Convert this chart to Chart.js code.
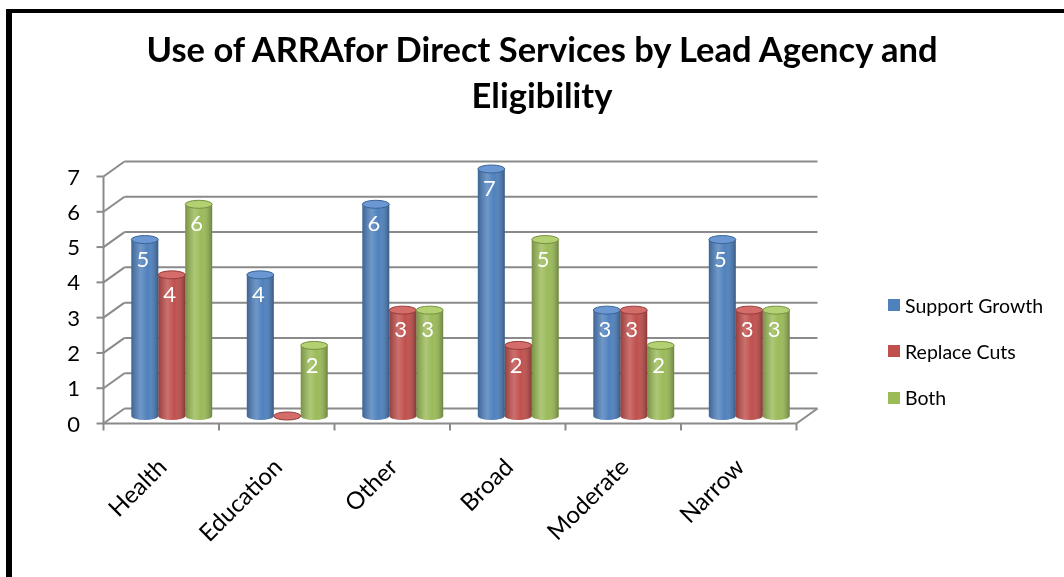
<!DOCTYPE html>
<html>
<head>
<meta charset="utf-8">
<script src="https://cdn.jsdelivr.net/npm/chart.js"></script>
<style>
  html, body { margin: 0; padding: 0; background: #fff; }
  #wrap { position: relative; width: 1064px; height: 577px; overflow: hidden; background: #fff; }
  #c { position: absolute; left: 0; top: 0; display: block; }
  #frame { position: absolute; left: 6px; top: 9px; width: 1200px; height: 700px;
           border-top: 4px solid #000; border-left: 6px solid #000; pointer-events: none; }
  #title { position: absolute; left: 0; top: 26px; width: 1084px; text-align: center;
           font-family: Lato, "Open Sans", sans-serif; font-weight: bold; font-size: 34.5px;
           line-height: 46px; color: #000; }
  .lg-item { position: absolute; left: 888px; height: 24px; display: flex; align-items: center;
             font-family: Lato, "Open Sans", sans-serif; font-size: 19.5px; color: #000; white-space: nowrap; }
  .lg-box { width: 12px; height: 12px; margin-right: 5px; }
</style>
</head>
<body>
<div id="wrap">
  <canvas id="c" width="1064" height="577"></canvas>
  <div id="frame"></div>
  <div id="title">Use of ARRAfor Direct Services by Lead Agency and<br>Eligibility</div>
  <div id="legend"></div>
</div>
<script>
// ---- data ----
const categories = ['Health', 'Education', 'Other', 'Broad', 'Moderate', 'Narrow'];
const seriesNames = ['Support Growth', 'Replace Cuts', 'Both'];
const supportGrowth = [5, 4, 6, 7, 3, 5];
const replaceCuts = [4, 0, 3, 2, 3, 3];
const both = [6, 2, 3, 5, 2, 3];
const yMin = 0, yMax = 7, yStep = 1;

// ---- style ----
const seriesColors = ['#4F81BD', '#C0504D', '#9BBB59'];
const capColors = ['#6B98D2', '#D46C69', '#B3D073'];
const edgeColors = ['#3A6496', '#943C3A', '#76913F'];
const legendCenters = [305, 351, 397.5];

// legend (HTML)
const lg = document.getElementById('legend');
seriesNames.forEach((name, i) => {
  const it = document.createElement('div');
  it.className = 'lg-item';
  it.style.top = (legendCenters[i] - 12) + 'px';
  const b = document.createElement('span');
  b.className = 'lg-box';
  b.style.background = seriesColors[i];
  const t = document.createElement('span');
  t.textContent = name;
  it.appendChild(b); it.appendChild(t);
  lg.appendChild(it);
});

const DX = 10.5, DY = 7.5;

function seg(ctx, x1, y1, x2, y2) {
  ctx.beginPath(); ctx.moveTo(x1, y1); ctx.lineTo(x2, y2); ctx.stroke();
}

const frame3d = {
  id: 'frame3d',
  beforeDatasetsDraw(chart) {
    const { ctx, chartArea: a } = chart;
    const x = chart.scales.x, y = chart.scales.y;
    const L = a.left, R = a.right;
    ctx.save();
    ctx.strokeStyle = '#8a8a8a';
    ctx.lineWidth = 2;
    y.ticks.forEach(t => {
      const py = y.getPixelForValue(t.value);
      seg(ctx, L - DX, py + DY, L + DX, py - DY);
      seg(ctx, L + DX, py - DY, R + DX, py - DY);
      seg(ctx, L - DX - 7, py + DY, L - DX, py + DY);
    });
    const y0 = y.getPixelForValue(yMin), yT = y.getPixelForValue(yMax);
    seg(ctx, L - DX, yT + DY, L - DX, y0 + DY);
    seg(ctx, L - DX, y0 + DY, R - DX, y0 + DY);
    seg(ctx, R - DX, y0 + DY, R + DX, y0 - DY);
    for (let i = 0; i <= categories.length; i++) {
      const px = x.getPixelForValue(i - 0.5) - DX;
      seg(ctx, px, y0 + DY, px, y0 + DY + 7);
    }
    ctx.restore();
  }
};

const cylinders = {
  id: 'cylinders',
  afterDatasetsDraw(chart) {
    const ctx = chart.ctx;
    const ry = 4;
    chart.data.datasets.forEach((ds, di) => {
      const meta = chart.getDatasetMeta(di);
      meta.data.forEach((bar, i) => {
        const p = bar.getProps(['x', 'y', 'base', 'width'], true);
        const w = p.width, left = p.x - w / 2, right = p.x + w / 2;
        const top = Math.min(p.y, p.base), bot = Math.max(p.y, p.base);
        ctx.save();
        ctx.beginPath();
        ctx.ellipse(p.x, bot, w / 2, ry, 0, 0, Math.PI);
        ctx.fillStyle = seriesColors[di];
        ctx.fill();
        const g = ctx.createLinearGradient(left, 0, right, 0);
        g.addColorStop(0, 'rgba(0,0,0,0.22)');
        g.addColorStop(0.35, 'rgba(255,255,255,0.18)');
        g.addColorStop(0.6, 'rgba(255,255,255,0)');
        g.addColorStop(1, 'rgba(0,0,0,0.30)');
        ctx.fillStyle = g;
        ctx.beginPath();
        ctx.rect(left, top, w, bot - top);
        ctx.ellipse(p.x, bot, w / 2, ry, 0, 0, Math.PI);
        ctx.fill();
        ctx.beginPath();
        ctx.ellipse(p.x, top, w / 2, ry, 0, 0, Math.PI * 2);
        ctx.fillStyle = capColors[di];
        ctx.fill();
        ctx.lineWidth = 1;
        ctx.strokeStyle = edgeColors[di];
        ctx.stroke();
        ctx.restore();
        const v = ds.data[i];
        if (v) {
          ctx.save();
          ctx.fillStyle = '#ffffff';
          ctx.font = '22px Lato, "Open Sans", sans-serif';
          ctx.textAlign = 'center';
          ctx.textBaseline = 'middle';
          ctx.fillText(String(v), p.x - 2, top + 20);
          ctx.restore();
        }
      });
    });
  }
};

Chart.defaults.font.family = 'Lato, "Open Sans", sans-serif';
Chart.defaults.color = '#000';

new Chart(document.getElementById('c'), {
  type: 'bar',
  data: {
    labels: categories,
    datasets: [
      { label: seriesNames[0], data: supportGrowth, backgroundColor: seriesColors[0] },
      { label: seriesNames[1], data: replaceCuts, backgroundColor: seriesColors[1] },
      { label: seriesNames[2], data: both, backgroundColor: seriesColors[2] }
    ]
  },
  options: {
    responsive: false,
    animation: false,
    devicePixelRatio: 1,
    layout: { padding: { left: 0, right: 257, top: 169, bottom: 0 } },
    datasets: { bar: { categoryPercentage: 0.70, barPercentage: 1.0, borderWidth: 0 } },
    plugins: { legend: { display: false }, title: { display: false }, tooltip: { enabled: false } },
    scales: {
      x: {
        offset: true,
        grid: { display: false, drawTicks: false },
        border: { display: false },
        ticks: { font: { size: 24 }, color: '#000', minRotation: 45, maxRotation: 45,
                 labelOffset: -9, padding: 37, autoSkip: false },
        afterFit: s => { s.height = 161; }
      },
      y: {
        min: yMin, max: yMax,
        grid: { display: false, drawTicks: false },
        border: { display: false },
        ticks: { stepSize: yStep, font: { size: 22 }, color: '#000', padding: 34, labelOffset: 8.5 },
        afterFit: s => { s.width = 114; }
      }
    }
  },
  plugins: [frame3d, cylinders]
});
</script>
</body>
</html>
